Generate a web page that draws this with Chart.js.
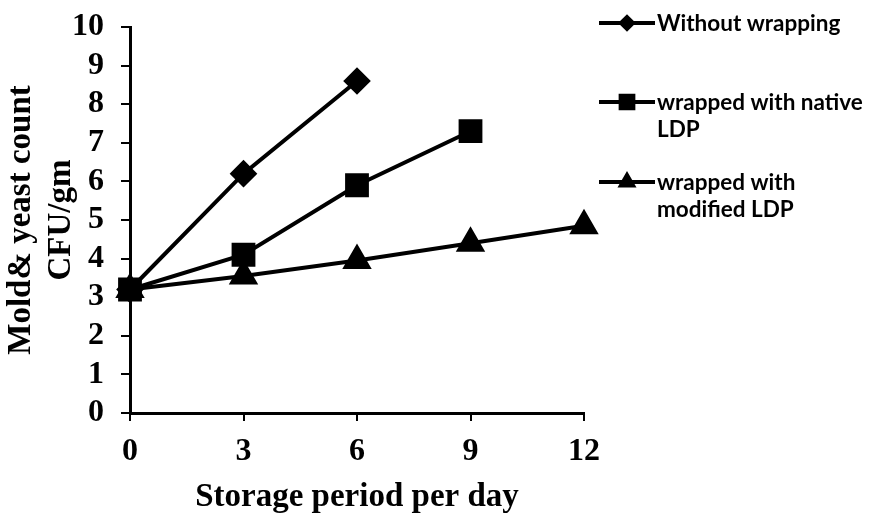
<!DOCTYPE html>
<html>
<head>
<meta charset="utf-8">
<script src="https://cdn.jsdelivr.net/npm/chart.js@4"></script>
<style>
  html, body { margin: 0; padding: 0; background: #fff; }
  #wrap { width: 869px; height: 515px; position: relative; }
</style>
</head>
<body>
<div id="wrap"><canvas id="myChart"></canvas></div>
<script>
// data
const days = ['0', '3', '6', '9', '12'];
const withoutWrapping = [3.2, 6.2, 8.6];
const nativeLDP = [3.2, 4.1, 5.9, 7.3];
const modifiedLDP = [3.2, 3.55, 3.95, 4.4, 4.85];

const seriesNames = ['Without wrapping', ['wrapped with native', 'LDP'], ['wrapped with', 'modified LDP']];

const serif = "'Liberation Serif', 'Times New Roman', serif";

// legend drawn by hand (multi-line labels like the original)
const sideLegend = {
    id: 'sideLegend',
    afterDraw(chart) {
        const c = chart.ctx;
        const rows = [
            { y: 23, style: 'rectRot', r: 6, lines: seriesNames[0] },
            { y: 102, style: 'rect', r: 9, lines: seriesNames[1] },
            { y: 182, style: 'triangle', r: 7, lines: seriesNames[2] }
        ];
        c.save();
        rows.forEach(row => {
            c.strokeStyle = '#000';
            c.lineWidth = 4;
            c.beginPath();
            c.moveTo(599, row.y);
            c.lineTo(655, row.y);
            c.stroke();
            c.fillStyle = '#000';
            Chart.helpers.drawPoint(c, { pointStyle: row.style, radius: row.r, borderWidth: 1 }, 627, row.y);
            c.fill();
            c.font = "bold 22.5px Lato, 'Open Sans', sans-serif";
            c.textBaseline = 'middle';
            c.textAlign = 'left';
            const lines = Array.isArray(row.lines) ? row.lines : [row.lines];
            lines.forEach((t, i) => c.fillText(t, 657, row.y + 1 + i * 27));
        });
        c.restore();
    }
};

const ctx = document.getElementById('myChart').getContext('2d');

const chart = new Chart(ctx, {
    type: 'line',
    data: {
        labels: days,
        datasets: [
            {
                label: 'Without wrapping',
                data: withoutWrapping,
                pointStyle: 'rectRot',
                pointRadius: 11
            },
            {
                label: 'wrapped with native LDP',
                data: nativeLDP,
                pointStyle: 'rect',
                pointRadius: 14
            },
            {
                label: 'wrapped with modified LDP',
                data: modifiedLDP,
                pointStyle: 'triangle',
                pointRadius: 13
            }
        ].map(d => Object.assign(d, {
            borderColor: '#000',
            backgroundColor: '#000',
            pointBackgroundColor: '#000',
            pointBorderColor: '#000',
            borderWidth: 4,
            tension: 0,
            fill: false
        }))
    },
    options: {
        responsive: true,
        maintainAspectRatio: false,
        animation: false,
        layout: {
            padding: { top: 27, right: 285, left: 0, bottom: 0 }
        },
        plugins: {
            legend: { display: false },
            tooltip: { enabled: false }
        },
        scales: {
            x: {
                offset: false,
                afterFit: (scale) => {
                    scale.height = 102;
                    scale.paddingLeft = 0;
                    scale.paddingRight = 0;
                },
                grid: {
                    drawOnChartArea: false,
                    color: '#000',
                    lineWidth: 2,
                    tickLength: 8
                },
                border: { color: '#000', width: 3 },
                ticks: {
                    color: '#000',
                    padding: 12,
                    maxRotation: 0,
                    autoSkip: false,
                    font: { family: serif, size: 32, weight: 'bold' }
                },
                title: {
                    display: true,
                    text: 'Storage period per day',
                    color: '#000',
                    padding: { top: 0, bottom: 0 },
                    font: { family: serif, size: 33, weight: 'bold', lineHeight: 1.05 }
                }
            },
            y: {
                min: 0,
                max: 10,
                afterFit: (scale) => {
                    scale.width = 130;
                    scale.paddingTop = 0;
                    scale.paddingBottom = 0;
                },
                grid: {
                    drawOnChartArea: false,
                    color: '#000',
                    lineWidth: 2,
                    tickLength: 9
                },
                border: { color: '#000', width: 3 },
                ticks: {
                    stepSize: 1,
                    autoSkip: false,
                    color: '#000',
                    padding: 17,
                    font: { family: serif, size: 32, weight: 'bold' }
                },
                title: {
                    display: true,
                    text: ['Mold& yeast count', 'CFU/gm'],
                    color: '#000',
                    padding: { top: 2, bottom: 0 },
                    font: { family: serif, size: 33, weight: 'bold', lineHeight: 1.21 }
                }
            }
        }
    },
    plugins: [sideLegend]
});
</script>
</body>
</html>
